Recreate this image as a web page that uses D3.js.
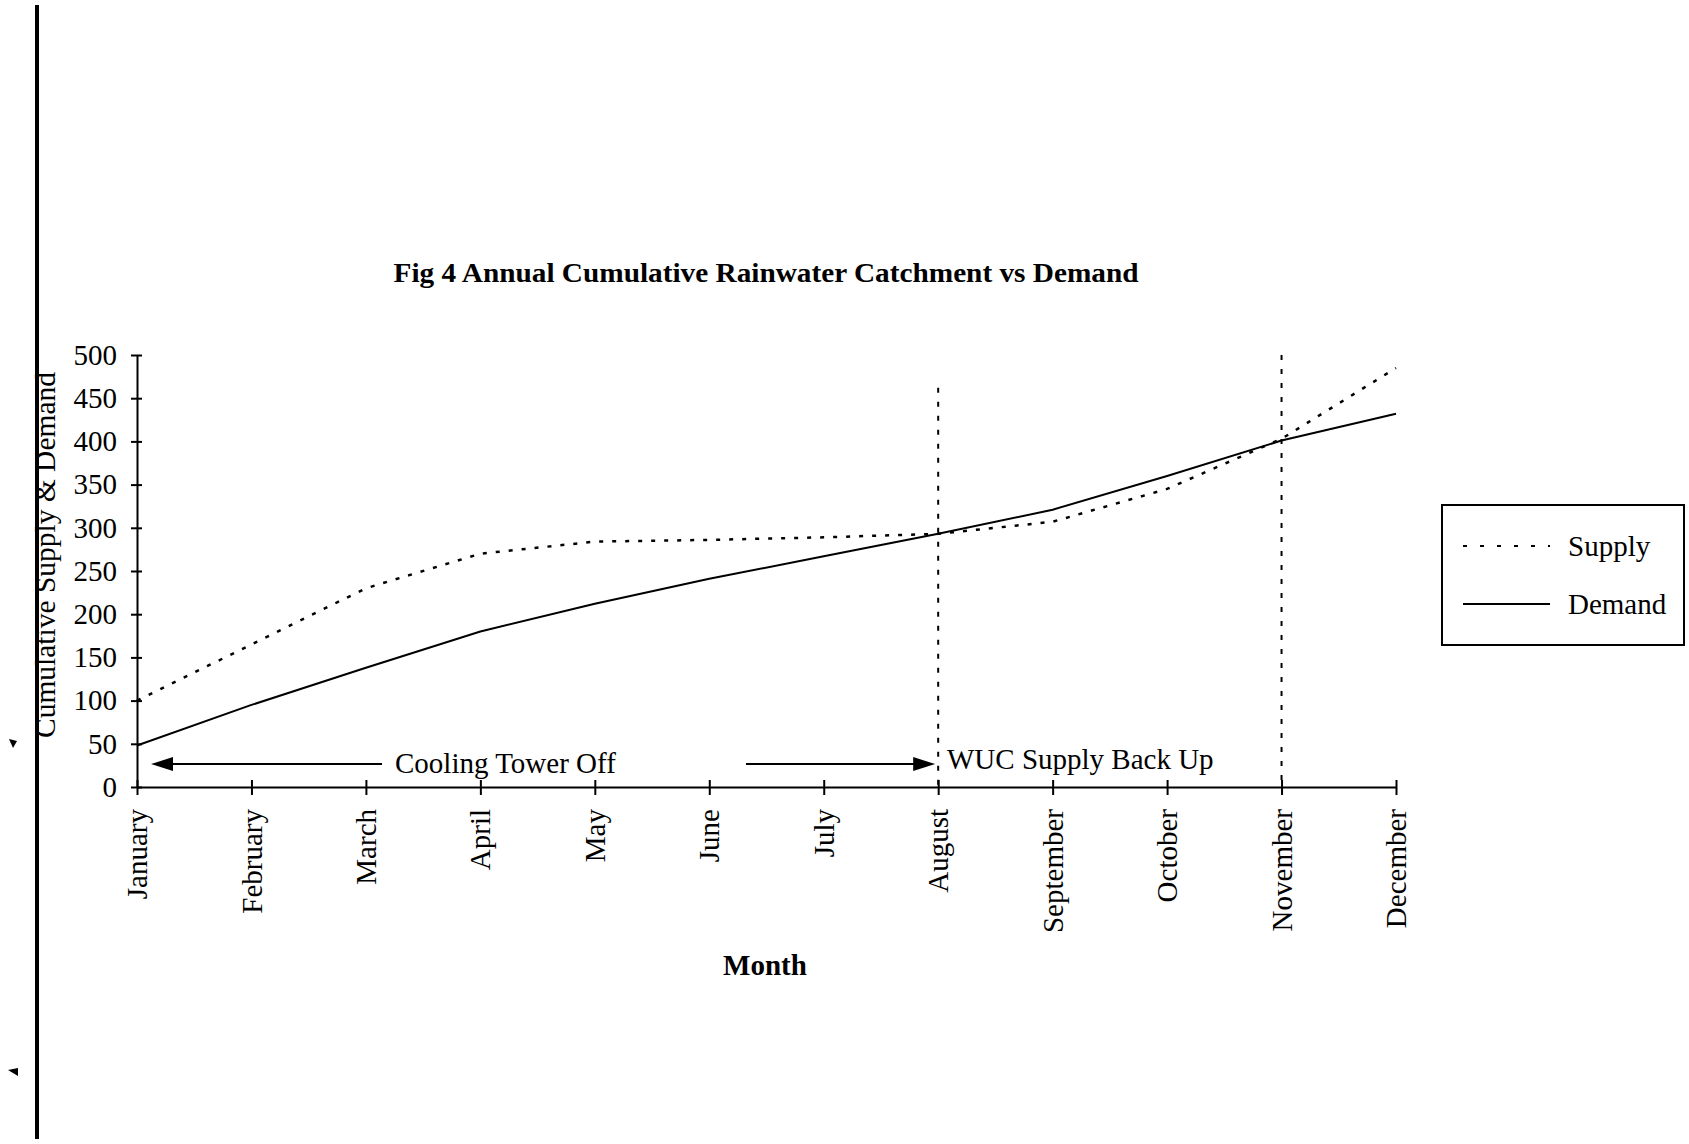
<!DOCTYPE html>
<html>
<head>
<meta charset="utf-8">
<script src="https://cdn.jsdelivr.net/npm/d3@7"></script>
<style>
  body { margin: 0; background: #fff; }
  svg { display: block; font-family: "Liberation Serif", "Times New Roman", serif; }
</style>
</head>
<body>
<svg id="chart" width="1689" height="1144"></svg>
<script>
const months = ['January', 'February', 'March', 'April', 'May', 'June', 'July',
  'August', 'September', 'October', 'November', 'December'];
const supply = [100, 165, 230, 270, 284, 286, 289, 293, 307, 345, 403, 485];
const demand = [48, 95, 138, 180, 212, 241, 267, 293, 321, 360, 401, 432];
const yTicks = [0, 50, 100, 150, 200, 250, 300, 350, 400, 450, 500];
const markers = [
  { month: 'August', top: 462 },
  { month: 'November', top: 500 },
];

const svg = d3.select('#chart');
const x = d3.scalePoint().domain(months).range([137, 1396]);
const y = d3.scaleLinear().domain([0, 500]).range([787, 355]);
const fs = 29;

// scan edge line on the left
svg.append('line')
  .attr('x1', 37).attr('x2', 37).attr('y1', 5).attr('y2', 1139)
  .attr('stroke', '#000').attr('stroke-width', 4);
svg.append('path').attr('d', 'M9,739 L17,741 L13,748 Z').attr('fill', '#000');
svg.append('path').attr('d', 'M8,1070 L18,1068 L18,1076 Z').attr('fill', '#000');

// title
svg.append('text')
  .attr('x', 766).attr('y', 282)
  .attr('text-anchor', 'middle')
  .attr('font-weight', 'bold')
  .attr('font-size', 27)
  .attr('textLength', 745)
  .attr('lengthAdjust', 'spacingAndGlyphs')
  .text('Fig 4 Annual Cumulative Rainwater Catchment vs Demand');

// y axis
const yAxis = svg.append('g')
  .attr('transform', `translate(${x('January')},0)`)
  .call(d3.axisLeft(y).tickValues(yTicks).tickSize(6).tickPadding(14).tickSizeOuter(0));
yAxis.select('.domain').attr('stroke-width', 2);
yAxis.selectAll('.tick line').attr('x2', 5).attr('x1', -6).attr('stroke-width', 2);
yAxis.selectAll('.tick text')
  .attr('font-family', '"Liberation Serif", serif')
  .attr('font-size', fs)
  .attr('fill', '#000');

// x axis
const xAxis = svg.append('g')
  .attr('transform', `translate(0,${y(0)})`)
  .call(d3.axisBottom(x).tickSize(7).tickSizeOuter(0));
xAxis.select('.domain').attr('stroke-width', 2);
xAxis.selectAll('.tick line').attr('y1', -7).attr('y2', 8).attr('stroke-width', 2);
xAxis.selectAll('.tick text')
  .attr('font-family', '"Liberation Serif", serif')
  .attr('font-size', fs)
  .attr('fill', '#000')
  .attr('text-anchor', 'end')
  .attr('transform', 'rotate(-90)')
  .attr('x', -22)
  .attr('y', 0)
  .attr('dy', '0.33em');

// axis titles
svg.append('text')
  .attr('transform', `translate(55,555) rotate(-90)`)
  .attr('text-anchor', 'middle')
  .attr('font-size', fs)
  .attr('textLength', 366)
  .attr('lengthAdjust', 'spacingAndGlyphs')
  .text('Cumulative Supply & Demand');

svg.append('text')
  .attr('x', 765).attr('y', 975)
  .attr('text-anchor', 'middle')
  .attr('font-weight', 'bold')
  .attr('font-size', fs)
  .text('Month');

// marker lines
svg.append('g').selectAll('line')
  .data(markers)
  .join('line')
  .attr('x1', (d) => x(d.month)).attr('x2', (d) => x(d.month))
  .attr('y1', (d) => y(d.top)).attr('y2', y(0))
  .attr('stroke', '#000')
  .attr('stroke-width', 2)
  .attr('stroke-dasharray', '5,9');

// series
const line = d3.line().x((d, i) => x(months[i])).y((d) => y(d));

svg.append('path')
  .datum(demand)
  .attr('d', line)
  .attr('fill', 'none')
  .attr('stroke', '#000')
  .attr('stroke-width', 2);

svg.append('path')
  .datum(supply)
  .attr('d', line)
  .attr('fill', 'none')
  .attr('stroke', '#000')
  .attr('stroke-width', 2.5)
  .attr('stroke-dasharray', '4,9');

// annotations
const ay = y(26.5);
const leftTip = x('January') + 14;
const rightTip = x('August') - 3;

svg.append('line')
  .attr('x1', 382).attr('x2', leftTip + 18)
  .attr('y1', ay).attr('y2', ay)
  .attr('stroke', '#000').attr('stroke-width', 2);
svg.append('path')
  .attr('d', `M${leftTip},${ay} L${leftTip + 22},${ay - 7} L${leftTip + 22},${ay + 7} Z`)
  .attr('fill', '#000');

svg.append('line')
  .attr('x1', 746).attr('x2', rightTip - 18)
  .attr('y1', ay).attr('y2', ay)
  .attr('stroke', '#000').attr('stroke-width', 2);
svg.append('path')
  .attr('d', `M${rightTip},${ay} L${rightTip - 22},${ay - 7} L${rightTip - 22},${ay + 7} Z`)
  .attr('fill', '#000');

svg.append('text')
  .attr('x', 395).attr('y', 773)
  .attr('font-size', fs)
  .text('Cooling Tower Off');

svg.append('text')
  .attr('x', 947).attr('y', 769)
  .attr('font-size', fs)
  .text('WUC Supply Back Up');

// legend
const legend = svg.append('g');
legend.append('rect')
  .attr('x', 1442).attr('y', 505)
  .attr('width', 242).attr('height', 140)
  .attr('fill', '#fff')
  .attr('stroke', '#000')
  .attr('stroke-width', 2);

const legendItems = [
  { name: 'Supply', dash: '4,13', ly: 546 },
  { name: 'Demand', dash: null, ly: 604 },
];
legendItems.forEach((item) => {
  legend.append('line')
    .attr('x1', 1463).attr('x2', 1550)
    .attr('y1', item.ly).attr('y2', item.ly)
    .attr('stroke', '#000')
    .attr('stroke-width', 2)
    .attr('stroke-dasharray', item.dash);
  legend.append('text')
    .attr('x', 1568).attr('y', item.ly + 10)
    .attr('font-size', fs)
    .text(item.name);
});
</script>
</body>
</html>
